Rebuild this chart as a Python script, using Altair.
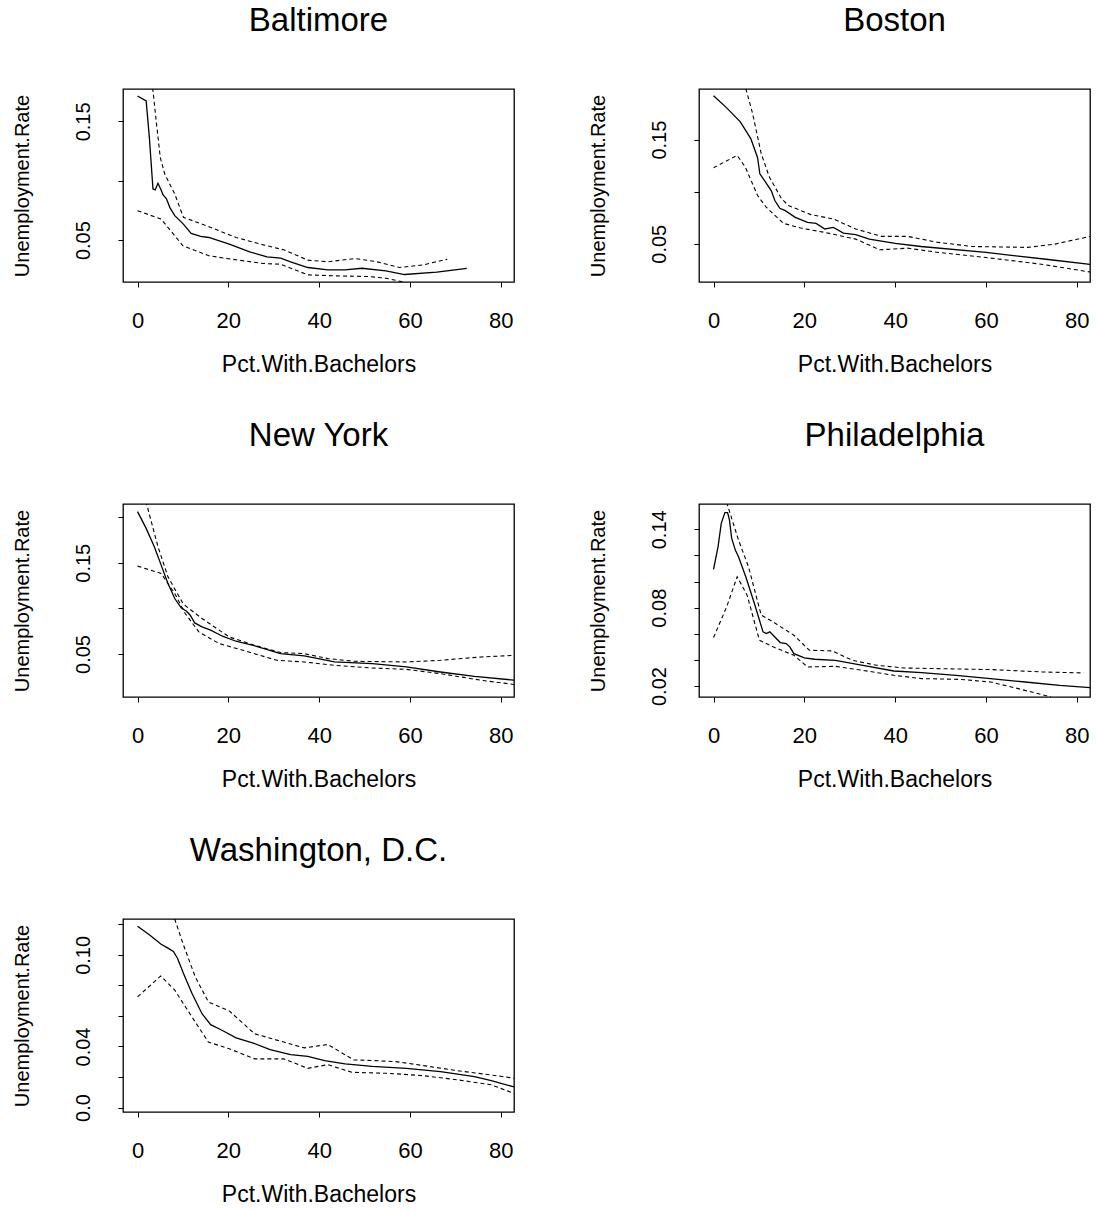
import altair as alt
import pandas as pd

FONT = "Liberation Sans"

CITIES = ["Baltimore", "Boston", "New York", "Philadelphia", "Washington, D.C."]
X_TICKS = [0, 20, 40, 60, 80]
X_DOMAIN = [-3.2, 82.9]

# ---------------- Baltimore ----------------
balt_fit_x = [0, 1.9, 2.6, 3.4, 3.9, 4.5, 5.1, 5.6, 6.4, 7.1, 8.2, 10.1, 11.8, 13.9, 15.7, 20.2,
              24.7, 28.5, 31.5, 33.7, 37.5, 41.9, 45.7, 49.4, 54.7, 58.8, 65.9, 72.5]
balt_fit_y = [0.1714, 0.1672, 0.1368, 0.0931, 0.0923, 0.0979, 0.0931, 0.0883, 0.0846, 0.0776, 0.0706,
              0.0635, 0.0556, 0.0531, 0.0522, 0.0466, 0.0401, 0.0359, 0.0348, 0.0317, 0.0269, 0.0249,
              0.0249, 0.0263, 0.0241, 0.0210, 0.0230, 0.0261]
balt_up_x = [3.0, 4.1, 5.0, 6.0, 8.2, 10.1, 15.7, 21.7, 27.7, 32.2, 37.5, 41.9, 47.9, 52.4, 57.7, 62.9, 68.2]
balt_up_y = [0.19, 0.1508, 0.1197, 0.1056, 0.0888, 0.0692, 0.0613, 0.0522, 0.046, 0.0418, 0.0331,
             0.0317, 0.0345, 0.032, 0.0269, 0.0291, 0.0339]
balt_lo_x = [0, 5.2, 10.0, 15.7, 21.7, 27.7, 31.5, 37.5, 43.4, 50.9, 54.7, 59.2]
balt_lo_y = [0.0748, 0.0677, 0.0452, 0.0368, 0.0334, 0.0303, 0.0297, 0.0207, 0.0199, 0.0193, 0.0179, 0.0142]

# ---------------- Boston ----------------
bos_fit_x = [0, 2.9, 5.9, 8.2, 9.7, 10.2, 11.6, 12.7, 13.5, 14.6, 15.8, 18.0, 20.7, 22.6, 24.5, 26.4,
             28.6, 31.3, 34.3, 40, 45.7, 60, 73.7, 83.6]
bos_fit_y = [0.1921, 0.1805, 0.1670, 0.151, 0.1326, 0.1172, 0.1082, 0.1011, 0.0915, 0.0841, 0.0818,
             0.0754, 0.0706, 0.0696, 0.0642, 0.0658, 0.0603, 0.0587, 0.0545, 0.0503, 0.0474, 0.0417,
             0.0349, 0.0298]
bos_up_x = [5.5, 7.0, 8.6, 10.5, 12.3, 15.0, 16.5, 21.4, 26.4, 31.3, 37.0, 42.7, 49.5, 57.0, 69.2, 75.2, 83.6]
bos_up_y = [0.225, 0.2008, 0.1751, 0.1365, 0.114, 0.0931, 0.0867, 0.078, 0.0738, 0.0642, 0.0571,
            0.0571, 0.0513, 0.0474, 0.0465, 0.0497, 0.0577]
bos_lo_x = [0, 5.2, 7.0, 9.7, 11.6, 15.4, 19.2, 24.5, 31.3, 36.6, 42.7, 49.5, 60, 72.2, 83.6]
bos_lo_y = [0.123, 0.1349, 0.1236, 0.0963, 0.0851, 0.0696, 0.0651, 0.0609, 0.0545, 0.0442, 0.0458,
            0.0417, 0.0368, 0.0304, 0.0224]

# ---------------- New York ----------------
ny_fit_x = [0, 1.9, 3.7, 5.2, 6.7, 8.2, 9.6, 10.8, 11.6, 12.6, 14.2, 16.1, 18.7, 21.7, 26.2, 31.5,
            36.7, 43.4, 51.7, 59.2, 66.7, 74.2, 83.3]
ny_fit_y = [0.206, 0.1877, 0.1676, 0.1474, 0.1273, 0.1108, 0.1006, 0.0969, 0.0925, 0.0841, 0.0797,
            0.0761, 0.0695, 0.064, 0.0585, 0.0504, 0.0479, 0.0413, 0.0395, 0.0358, 0.0303, 0.0256, 0.0212]
ny_up_x = [1.5, 2.0, 4.5, 6.7, 10.1, 14.2, 20.2, 26.2, 31.5, 36.7, 41.9, 47.9, 59.2, 66.7, 75.7, 83.3]
ny_up_y = [0.225, 0.2144, 0.1676, 0.1346, 0.1046, 0.0889, 0.0687, 0.0589, 0.0516, 0.0504, 0.045,
           0.042, 0.0413, 0.0431, 0.0468, 0.0486]
ny_lo_x = [0, 5.2, 8.2, 10.5, 13.5, 18.0, 23.2, 30.7, 36.7, 43.4, 51.7, 59.2, 66.7, 75.7, 83.3]
ny_lo_y = [0.1463, 0.1383, 0.1163, 0.0944, 0.0742, 0.0614, 0.0541, 0.0431, 0.0413, 0.0376, 0.0347,
           0.0332, 0.0285, 0.0212, 0.0164]

# ---------------- Philadelphia ----------------
phl_fit_x = [0, 1.0, 1.7, 2.5, 3.1, 3.5, 4.0, 4.8, 5.5, 7.1, 9.0, 10.9, 11.6, 12.4, 13.5, 14.7, 16.0,
             16.8, 17.7, 20.0, 22.3, 26.8, 32.9, 39.7, 45.8, 53.4, 61.0, 68.6, 76.2, 83.4]
phl_fit_y = [0.1093, 0.1267, 0.1446, 0.1528, 0.1528, 0.1472, 0.1331, 0.1241, 0.119, 0.1037, 0.0832,
             0.0615, 0.0602, 0.0615, 0.0576, 0.0533, 0.0525, 0.05, 0.0448, 0.0415, 0.0405, 0.0397,
             0.0359, 0.0315, 0.0303, 0.0282, 0.0257, 0.0231, 0.0205, 0.0187]
phl_up_x = [2.6, 3.0, 5.5, 7.7, 10.5, 13.1, 17.7, 21.1, 26.1, 30.6, 35.9, 42.0, 49.6, 61.0, 72.4, 81.5]
phl_up_y = [0.166, 0.1594, 0.1318, 0.1113, 0.0743, 0.0691, 0.0589, 0.0474, 0.0469, 0.0397, 0.0359,
            0.0338, 0.0333, 0.0326, 0.0308, 0.030]
phl_lo_x = [0, 2.9, 5.2, 7.4, 10.1, 13.1, 17.7, 20.7, 26.8, 32.9, 39.7, 45.8, 54.2, 61.0, 67.1, 74.3]
phl_lo_y = [0.0571, 0.0807, 0.1037, 0.0896, 0.0551, 0.05, 0.0436, 0.0346, 0.0351, 0.032, 0.0282,
            0.0257, 0.0251, 0.0231, 0.018, 0.0116]

# ---------------- Washington, D.C. ----------------
dc_fit_x = [0, 2.6, 5.2, 6.7, 7.9, 8.8, 10.1, 12.0, 14.2, 16.1, 18.7, 21.7, 25.5, 29.2, 33.7, 37.5,
            41.2, 45.7, 51.7, 59.2, 66.7, 74.2, 77.9, 83.3]
dc_fit_y = [0.1187, 0.1132, 0.107, 0.1044, 0.1022, 0.0978, 0.0879, 0.0747, 0.0615, 0.0543, 0.0505,
            0.0457, 0.0422, 0.038, 0.0347, 0.0336, 0.0308, 0.0286, 0.027, 0.0257, 0.0235, 0.0202,
            0.0176, 0.0132]
dc_up_x = [7.8, 8.1, 10.1, 12.7, 15.6, 20.2, 25.8, 32.2, 36.7, 41.9, 47.6, 51.7, 56.9, 62.9, 70.4, 77.9, 83.3]
dc_up_y = [0.128, 0.1242, 0.1066, 0.0857, 0.0692, 0.0633, 0.0483, 0.0429, 0.0391, 0.0413, 0.0312,
           0.0308, 0.0301, 0.0275, 0.0242, 0.0213, 0.0191]
dc_lo_x = [0, 5.1, 8.2, 12.0, 15.6, 20.2, 25.8, 32.2, 37.5, 41.9, 47.2, 55.4, 62.9, 70.4, 77.9, 83.3]
dc_lo_y = [0.0725, 0.0862, 0.0769, 0.0593, 0.0429, 0.0385, 0.0319, 0.0319, 0.0257, 0.0281, 0.0231,
           0.0224, 0.0209, 0.0182, 0.0149, 0.0088]

# ---------------- per-panel y axes ----------------
Y_DOMAINS = {
    "Baltimore": [0.0147, 0.1773],
    "Boston": [0.0133, 0.1986],
    "New York": [0.0029, 0.2144],
    "Philadelphia": [0.0116, 0.1594],
    "Washington, D.C.": [-0.0029, 0.1235],
}
Y_TICKS = {
    "Baltimore": [0.05, 0.10, 0.15],
    "Boston": [0.05, 0.10, 0.15],
    "New York": [0.05, 0.10, 0.15, 0.20],
    "Philadelphia": [0.02, 0.04, 0.06, 0.08, 0.10, 0.12, 0.14],
    "Washington, D.C.": [0.0, 0.02, 0.04, 0.06, 0.08, 0.10, 0.12],
}
Y_LABELS = {
    "Baltimore": [(0.05, "0.05"), (0.15, "0.15")],
    "Boston": [(0.05, "0.05"), (0.15, "0.15")],
    "New York": [(0.05, "0.05"), (0.15, "0.15")],
    "Philadelphia": [(0.02, "0.02"), (0.08, "0.08"), (0.14, "0.14")],
    "Washington, D.C.": [(0.0, "0.0"), (0.04, "0.04"), (0.10, "0.10")],
}

SERIES = {
    "Baltimore": [(balt_fit_x, balt_fit_y, "fit"), (balt_up_x, balt_up_y, "upper"), (balt_lo_x, balt_lo_y, "lower")],
    "Boston": [(bos_fit_x, bos_fit_y, "fit"), (bos_up_x, bos_up_y, "upper"), (bos_lo_x, bos_lo_y, "lower")],
    "New York": [(ny_fit_x, ny_fit_y, "fit"), (ny_up_x, ny_up_y, "upper"), (ny_lo_x, ny_lo_y, "lower")],
    "Philadelphia": [(phl_fit_x, phl_fit_y, "fit"), (phl_up_x, phl_up_y, "upper"), (phl_lo_x, phl_lo_y, "lower")],
    "Washington, D.C.": [(dc_fit_x, dc_fit_y, "fit"), (dc_up_x, dc_up_y, "upper"), (dc_lo_x, dc_lo_y, "lower")],
}

rows = []
for city, lst in SERIES.items():
    for xs, ys, name in lst:
        for i, (xv, yv) in enumerate(zip(xs, ys)):
            rows.append({"city": city, "series": name, "i": i, "x": xv, "y": yv})
df = pd.DataFrame(rows)

PW, PH = 391, 193


def label_expr(pairs):
    expr = "''"
    for v, t in reversed(pairs):
        expr = f"abs(datum.value - ({v})) < 1e-6 ? '{t}' : {expr}"
    return expr


def panel(city):
    d = df[df.city == city]
    x = alt.X(
        "x:Q",
        scale=alt.Scale(domain=X_DOMAIN, nice=False, zero=False),
        axis=alt.Axis(
            values=X_TICKS, title="Pct.With.Bachelors", format="d",
            tickSize=5, labelPadding=23, labelFontSize=22, titleFontSize=23,
            minExtent=50, maxExtent=50, titlePadding=21,
            labelFlush=False, labelOverlap=False,
        ),
    )
    y = alt.Y(
        "y:Q",
        scale=alt.Scale(domain=Y_DOMAINS[city], nice=False, zero=False),
        axis=alt.Axis(
            values=Y_TICKS[city], labelExpr=label_expr(Y_LABELS[city]),
            title="Unemployment.Rate",
            tickSize=5, labelPadding=25, labelAngle=270, labelAlign="center",
            labelBaseline="bottom", labelFontSize=20, titleFontSize=20,
            minExtent=60, maxExtent=60, titlePadding=31,
            labelFlush=False, labelOverlap=False,
        ),
    )
    base = alt.Chart(d)
    fit = base.transform_filter("datum.series == 'fit'").mark_line(
        color="black", strokeWidth=1.3, clip=True
    ).encode(x=x, y=y, order="i:Q")
    band = base.transform_filter("datum.series != 'fit'").mark_line(
        color="black", strokeWidth=1.1, strokeDash=[4, 3], clip=True
    ).encode(x=x, y=y, detail="series:N", order="i:Q")
    return alt.layer(fit, band).properties(
        width=PW, height=PH,
        title=alt.TitleParams(
            text=city, font=FONT, fontSize=33, fontWeight="normal", color="black",
            anchor="middle", frame="group", baseline="alphabetic", offset=25,
        ),
    )


row1 = alt.hconcat(panel("Baltimore"), panel("Boston"), spacing=72)
row2 = alt.hconcat(panel("New York"), panel("Philadelphia"), spacing=72)
row3 = alt.hconcat(panel("Washington, D.C."), spacing=72)

chart = alt.vconcat(row1, row2, row3, spacing=42).properties(
    padding={"left": 11, "top": 4, "right": 0, "bottom": 0},
    background="white",
).configure_view(
    stroke="black", strokeWidth=1.3
).configure_axis(
    grid=False, domain=False, tickColor="black", tickWidth=1,
    labelColor="black", titleColor="black", labelFont=FONT, titleFont=FONT,
    titleFontWeight="normal",
)

chart.save("out.html", embed_options={"renderer": "svg", "actions": False})
